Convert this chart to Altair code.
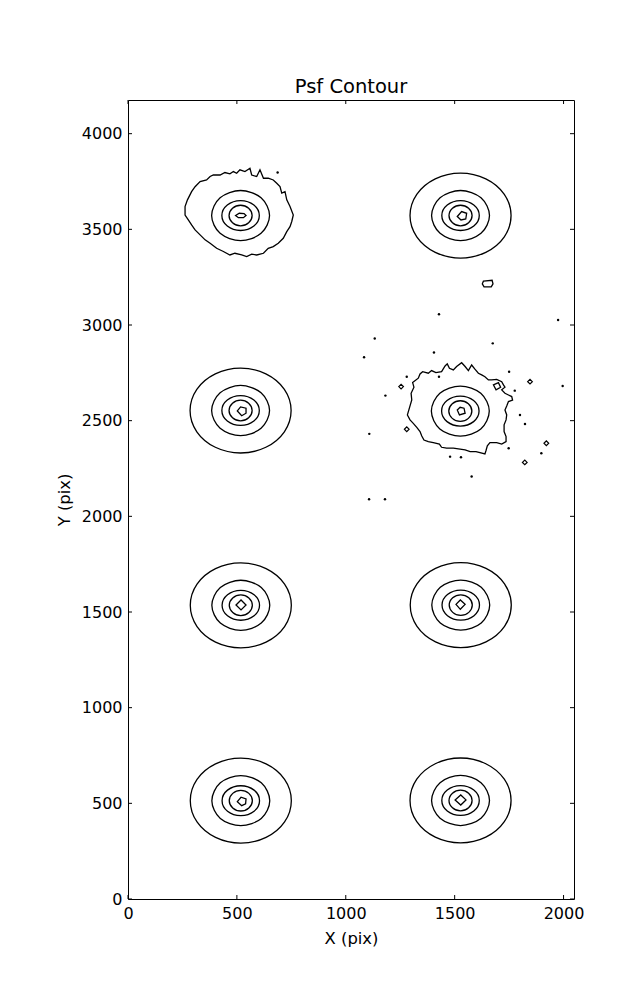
import altair as alt
import pandas as pd

# ---------------- axis ranges / ticks ----------------
X_DOMAIN = [0, 2048]
Y_DOMAIN = [0, 4176]
x_ticks = [0, 500, 1000, 1500, 2000]
y_ticks = [0, 500, 1000, 1500, 2000, 2500, 3000, 3500, 4000]

# ---------------- PSF star centres (pix) ----------------
group_names = ["G1", "G2", "G3", "G4", "G5", "G6", "G7", "G8"]
group_cx = [517, 1527, 517, 1526, 518, 1528, 518, 1527]
group_cy = [3572, 3572, 2553, 2550, 1535, 1536, 514, 515]

# contour level shapes (offsets from centre, pix)
outer_dx = [232, 201, 116, 0, -116, -201, -232, -201, -116, 0, 116, 201]
outer_dy = [0, 111, 192, 222, 192, 111, 0, -111, -192, -222, -192, -111]
ring2_dx = [133, 94, 0, -94, -133, -94, 0, 94]
ring2_dy = [0, 93, 131, 93, 0, -93, -131, -93]
ring3_dx = [86, 61, 0, -61, -86, -61, 0, 61]
ring3_dy = [0, 55, 78, 55, 0, -55, -78, -55]
ring4_dx = [53, 37, 0, -37, -53, -37, 0, 37]
ring4_dy = [0, 38, 54, 38, 0, -38, -54, -38]
smooth_outer_groups = ["G2", "G3", "G5", "G6", "G7", "G8"]

# jagged outer contours
g1_outer_x = [262, 262, 273, 292, 308, 331, 361, 377, 392, 423, 445, 468, 484, 499,
              514, 537, 560, 568, 591, 606, 622, 644, 667, 683, 698, 706, 721, 729,
              744, 759, 752, 744, 729, 713, 690, 667, 644, 622, 591, 568, 545, 522,
              491, 468, 438, 407, 377, 354, 331, 308, 292, 277]
g1_outer_y = [3575, 3619, 3654, 3697, 3723, 3750, 3758, 3776, 3784, 3784, 3797, 3790,
              3802, 3793, 3811, 3802, 3819, 3784, 3776, 3811, 3767, 3767, 3758, 3741,
              3723, 3689, 3697, 3654, 3619, 3575, 3541, 3514, 3488, 3453, 3427, 3410,
              3401, 3375, 3366, 3370, 3358, 3366, 3375, 3366, 3384, 3401, 3427, 3445,
              3471, 3497, 3523, 3549]
g4_outer_x = [1283, 1303, 1300, 1313, 1307, 1333, 1341, 1353, 1379, 1394, 1414, 1440,
              1456, 1466, 1476, 1494, 1509, 1532, 1548, 1563, 1578, 1593, 1609, 1624,
              1639, 1655, 1670, 1693, 1716, 1724, 1731, 1716, 1731, 1747, 1762, 1766,
              1747, 1739, 1731, 1739, 1736, 1727, 1727, 1736, 1736, 1716, 1693, 1662,
              1650, 1644, 1639, 1616, 1598, 1571, 1548, 1525, 1494, 1463, 1440, 1430,
              1402, 1379, 1359, 1349, 1341, 1326, 1310, 1295]
g4_outer_y = [2530, 2608, 2643, 2675, 2699, 2722, 2744, 2756, 2748, 2762, 2751, 2756,
              2786, 2797, 2774, 2765, 2783, 2803, 2783, 2762, 2791, 2769, 2748, 2739,
              2730, 2713, 2713, 2716, 2704, 2687, 2675, 2661, 2643, 2634, 2626, 2608,
              2600, 2577, 2556, 2530, 2504, 2478, 2443, 2417, 2391, 2378, 2385, 2385,
              2368, 2344, 2326, 2333, 2338, 2338, 2347, 2351, 2356, 2356, 2361, 2378,
              2385, 2391, 2399, 2420, 2443, 2465, 2486, 2504]

# innermost contours
core_x = {
    "G1": [494, 511, 533, 542, 530, 507],
    "G2": [1512, 1532, 1555, 1551, 1529],
    "G3": [502, 517, 542, 542, 522],
    "G4": [1512, 1525, 1543, 1548, 1522],
    "G5": [496, 519, 542, 519],
    "G6": [1506, 1526, 1548, 1526],
    "G7": [502, 519, 542, 540, 522],
    "G8": [1502, 1528, 1552, 1528],
}
core_y = {
    "G1": [3572, 3584, 3582, 3572, 3561, 3561],
    "G2": [3567, 3593, 3584, 3554, 3549],
    "G3": [2551, 2572, 2565, 2539, 2526],
    "G4": [2556, 2570, 2565, 2539, 2530],
    "G5": [1537, 1563, 1537, 1511],
    "G6": [1540, 1563, 1540, 1514],
    "G7": [509, 532, 523, 497, 488],
    "G8": [518, 544, 518, 491],
}

# small isolated contours
blob_x = [1632, 1672, 1676, 1668, 1635, 1627]
blob_y = [3229, 3234, 3215, 3199, 3199, 3215]
notch_x = [1678, 1701, 1711, 1690]
notch_y = [2687, 2699, 2675, 2661]

dot_x = [687, 1428, 1133, 1084, 1675, 1975, 1405, 1750, 1280, 1428, 1182, 1996,
         1776, 1800, 1823, 1108, 1748, 1898, 1479, 1529, 1578, 1107, 1180]
dot_y = [3797, 3056, 2929, 2831, 2904, 3026, 2856, 2756, 2730, 2730, 2631, 2681,
         2657, 2530, 2483, 2431, 2356, 2330, 2312, 2309, 2208, 2089, 2089]
loop_x = [1254, 1846, 1280, 1921, 1822]
loop_y = [2678, 2704, 2455, 2382, 2282]

# ---------------- build tables ----------------
smooth_rows = []
for g, cx, cy in zip(group_names, group_cx, group_cy):
    levels = [("ring2", ring2_dx, ring2_dy), ("ring3", ring3_dx, ring3_dy),
              ("ring4", ring4_dx, ring4_dy)]
    if g in smooth_outer_groups:
        levels.append(("outer", outer_dx, outer_dy))
    for lev, dxs, dys in levels:
        for i, (dx, dy) in enumerate(zip(dxs, dys)):
            smooth_rows.append({"x": cx + dx, "y": cy + dy, "cid": f"{g}-{lev}", "k": i})
smooth_df = pd.DataFrame(smooth_rows)

poly_rows = []
polys = {"G1-outer": (g1_outer_x, g1_outer_y), "G4-outer": (g4_outer_x, g4_outer_y),
         "blob": (blob_x, blob_y), "notch": (notch_x, notch_y)}
for g in group_names:
    polys[f"{g}-core"] = (core_x[g], core_y[g])
for name, (xs, ys) in polys.items():
    for i, (xv, yv) in enumerate(zip(xs, ys)):
        poly_rows.append({"x": xv, "y": yv, "cid": name, "k": i})
poly_df = pd.DataFrame(poly_rows)

dots_df = pd.DataFrame({"x": dot_x, "y": dot_y})
loops_df = pd.DataFrame({"x": loop_x, "y": loop_y})
xt_df = pd.DataFrame({"x": x_ticks})
yt_df = pd.DataFrame({"y": y_ticks})

FONT = "DejaVu Sans"
W, H = 446, 799

x_enc = alt.X("x:Q", scale=alt.Scale(domain=X_DOMAIN, nice=False, zero=False),
              axis=alt.Axis(values=x_ticks, title="X (pix)", grid=False, domain=False,
                            ticks=False, labelPadding=6, labelFontSize=16, labelFlush=False,
                            labelFont=FONT, labelColor="black", titleFont=FONT,
                            titleFontSize=16.4, titleFontWeight="normal",
                            titleColor="black", titlePadding=9, format="d"))
y_enc = alt.Y("y:Q", scale=alt.Scale(domain=Y_DOMAIN, nice=False, zero=False),
              axis=alt.Axis(values=y_ticks, title="Y (pix)", grid=False, domain=False,
                            ticks=False, labelPadding=6, labelFontSize=16, labelFlush=False,
                            labelFont=FONT, labelColor="black", titleFont=FONT,
                            titleFontSize=16.4, titleFontWeight="normal",
                            titleColor="black", titlePadding=9, format="d"))

smooth = alt.Chart(smooth_df).mark_line(
    interpolate="cardinal-closed", color="black", strokeWidth=1.3
).encode(x=x_enc, y=y_enc, detail="cid:N", order="k:Q")

poly = alt.Chart(poly_df).mark_line(
    interpolate="linear-closed", color="black", strokeWidth=1.3
).encode(x=x_enc, y=y_enc, detail="cid:N", order="k:Q")

dots = alt.Chart(dots_df).mark_circle(color="black", size=6, opacity=1).encode(x=x_enc, y=y_enc)
loops = alt.Chart(loops_df).mark_point(shape="diamond", filled=False, color="black",
                                        size=22, strokeWidth=1.2, opacity=1).encode(x=x_enc, y=y_enc)

tick_style = dict(color="black", strokeWidth=1)
xt_bottom = alt.Chart(xt_df).mark_rule(**tick_style).encode(x=x_enc, y=alt.value(H), y2=alt.value(H - 4))
xt_top = alt.Chart(xt_df).mark_rule(**tick_style).encode(x=x_enc, y=alt.value(0), y2=alt.value(4))
yt_left = alt.Chart(yt_df).mark_rule(**tick_style).encode(y=y_enc, x=alt.value(0), x2=alt.value(4))
yt_right = alt.Chart(yt_df).mark_rule(**tick_style).encode(y=y_enc, x=alt.value(W), x2=alt.value(W - 4))

chart = alt.layer(smooth, poly, dots, loops, xt_bottom, xt_top, yt_left, yt_right).properties(
    width=W, height=H,
    title=alt.TitleParams("Psf Contour", font=FONT, fontSize=19.5, fontWeight="normal",
                          color="black", offset=2),
    autosize=alt.AutoSizeParams(type="none"),
    padding={"left": 120, "top": 92, "right": 55, "bottom": 92},
    background="white",
).configure_view(stroke="black", strokeWidth=1)

chart.save("out.html", embed_options={"renderer": "svg", "actions": False})
